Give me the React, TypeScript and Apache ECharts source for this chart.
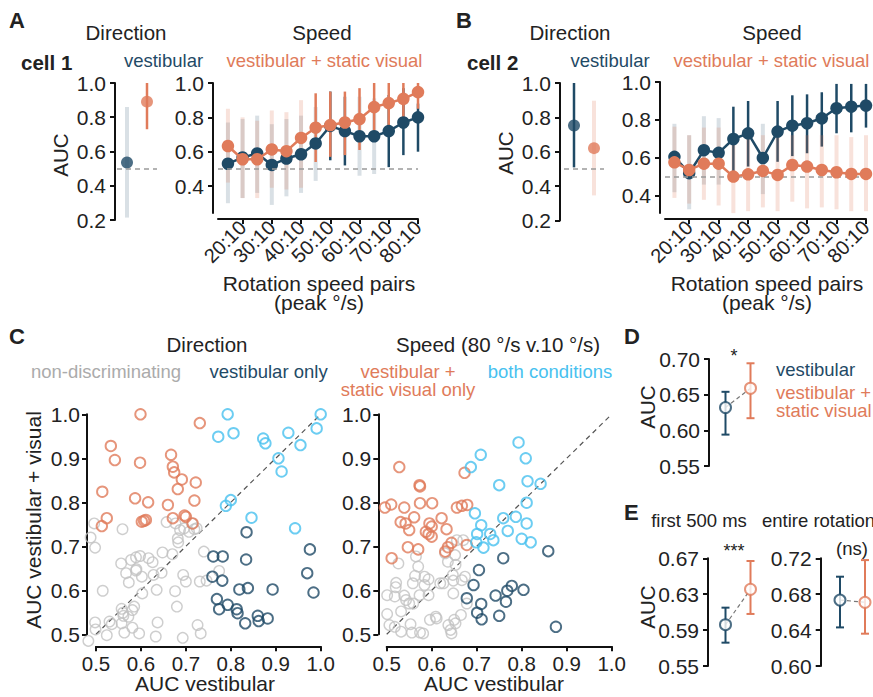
import React, { useEffect, useRef } from 'react';
import * as echarts from 'echarts';

const BLUE = '#1f4a66';
const ORANGE = '#e07b5a';
const LIGHTBLUE = '#47c1ef';
const GRAY = '#c2c2c2';
const TEXT = '#222222';
const FONT = '"Liberation Sans", Arial, Helvetica, sans-serif';
const BLUE_FADED = 'rgba(31,74,102,0.17)';
const ORANGE_FADED = 'rgba(224,123,90,0.22)';

const conditions = ['vestibular', 'vestibular + static visual'];
const speedFast = [15, 20, 25, 30, 35, 40, 45, 50, 55, 60, 65, 70, 75, 80];
const speedTicks = [20, 30, 40, 50, 60, 70, 80];
const aucTicksA = [0.4, 0.6, 0.8, 1.0];

// ---- cell 1 ----
const cell1DirAUC = [0.536, 0.891];
const cell1DirLow = [0.214, 0.73];
const cell1DirHigh = [0.86, 1.0];
const cell1DirSig = [0, 1];

const cell1SpeedVest = [0.53, 0.566, 0.59, 0.523, 0.56, 0.585, 0.648, 0.75, 0.72, 0.69, 0.69, 0.72, 0.77, 0.8];
const cell1SpeedVestLow = [0.3, 0.33, 0.36, 0.29, 0.34, 0.36, 0.43, 0.55, 0.52, 0.46, 0.47, 0.51, 0.58, 0.6];
const cell1SpeedVestHigh = [0.77, 0.79, 0.81, 0.76, 0.79, 0.81, 0.86, 0.95, 0.92, 0.92, 0.91, 0.93, 0.97, 0.88];
const cell1SpeedVestSig = [0, 0, 0, 0, 0, 0, 0, 1, 1, 0, 0, 1, 1, 1];
const cell1SpeedVis = [0.633, 0.556, 0.556, 0.613, 0.603, 0.68, 0.74, 0.755, 0.77, 0.79, 0.86, 0.883, 0.908, 0.947];
const cell1SpeedVisLow = [0.42, 0.33, 0.33, 0.39, 0.38, 0.39, 0.54, 0.57, 0.58, 0.61, 0.66, 0.7, 0.77, 0.85];
const cell1SpeedVisHigh = [0.85, 0.8, 0.78, 0.84, 0.83, 0.9, 0.94, 0.95, 0.95, 0.97, 1.0, 1.0, 1.0, 1.0];
const cell1SpeedVisSig = [0, 0, 0, 0, 0, 0, 1, 1, 1, 1, 1, 1, 1, 1];

// ---- cell 2 ----
const cell2DirAUC = [0.753, 0.621];
const cell2DirLow = [0.509, 0.346];
const cell2DirHigh = [1.0, 0.897];
const cell2DirSig = [1, 0];

const cell2SpeedVest = [0.606, 0.52, 0.641, 0.627, 0.7, 0.73, 0.6, 0.739, 0.77, 0.783, 0.809, 0.862, 0.87, 0.876];
const cell2SpeedVestLow = [0.42, 0.33, 0.46, 0.46, 0.51, 0.555, 0.41, 0.58, 0.61, 0.625, 0.66, 0.73, 0.735, 0.76];
const cell2SpeedVestHigh = [0.78, 0.72, 0.82, 0.81, 0.87, 0.9, 0.78, 0.9, 0.93, 0.935, 0.946, 0.99, 0.99, 0.99];
const cell2SpeedVestSig = [0, 0, 0, 0, 1, 1, 0, 1, 1, 1, 1, 1, 1, 1];
const cell2SpeedVis = [0.577, 0.537, 0.57, 0.57, 0.502, 0.514, 0.532, 0.511, 0.563, 0.555, 0.537, 0.525, 0.516, 0.516];
const cell2SpeedVisLow = [0.39, 0.36, 0.38, 0.35, 0.31, 0.32, 0.34, 0.32, 0.37, 0.335, 0.34, 0.33, 0.32, 0.32];
const cell2SpeedVisHigh = [0.765, 0.72, 0.76, 0.76, 0.72, 0.72, 0.72, 0.72, 0.72, 0.72, 0.72, 0.72, 0.71, 0.72];
const cell2SpeedVisSig = [0, 0, 0, 0, 0, 0, 0, 0, 0, 0, 0, 0, 0, 0];

// ---- population: direction ----
const dirNonDisc = [
  [0.496, 0.752], [0.488, 0.72], [0.498, 0.697], [0.559, 0.739], [0.515, 0.599], [0.498, 0.527], [0.499, 0.511],
  [0.483, 0.485], [0.524, 0.498], [0.53, 0.529], [0.535, 0.523], [0.556, 0.661], [0.578, 0.669], [0.589, 0.675],
  [0.598, 0.678], [0.617, 0.673], [0.626, 0.664], [0.648, 0.686], [0.567, 0.639], [0.573, 0.618], [0.589, 0.645],
  [0.59, 0.648], [0.602, 0.631], [0.603, 0.593], [0.628, 0.635], [0.635, 0.601], [0.646, 0.64], [0.67, 0.682],
  [0.657, 0.755], [0.677, 0.752], [0.682, 0.718], [0.683, 0.709], [0.687, 0.737], [0.696, 0.741], [0.707, 0.733],
  [0.719, 0.739], [0.714, 0.752], [0.724, 0.741], [0.694, 0.635], [0.7, 0.62], [0.676, 0.598], [0.68, 0.563],
  [0.731, 0.62], [0.746, 0.622], [0.74, 0.688], [0.774, 0.644], [0.557, 0.558], [0.56, 0.549], [0.561, 0.542],
  [0.572, 0.54], [0.581, 0.555], [0.585, 0.563], [0.557, 0.525], [0.563, 0.504], [0.581, 0.515], [0.596, 0.502],
  [0.637, 0.527], [0.633, 0.495], [0.693, 0.492], [0.726, 0.521], [0.733, 0.502],
];
const dirVestOnly = [
  [0.835, 0.732], [0.761, 0.677], [0.782, 0.677], [0.834, 0.67], [0.976, 0.693], [0.97, 0.639], [0.984, 0.595],
  [0.893, 0.602], [0.838, 0.605], [0.819, 0.602], [0.759, 0.631], [0.781, 0.622], [0.769, 0.58], [0.774, 0.557],
  [0.793, 0.567], [0.813, 0.557], [0.815, 0.548], [0.832, 0.525], [0.86, 0.542], [0.862, 0.53], [0.882, 0.536],
];
const dirVisOnly = [
  [0.599, 1.0], [0.731, 0.98], [0.533, 0.928], [0.542, 0.896], [0.598, 0.89], [0.514, 0.824], [0.524, 0.764],
  [0.513, 0.746], [0.587, 0.809], [0.616, 0.8], [0.602, 0.756], [0.607, 0.758], [0.611, 0.76], [0.667, 0.908],
  [0.671, 0.881], [0.674, 0.868], [0.691, 0.852], [0.682, 0.83], [0.66, 0.794], [0.671, 0.764], [0.697, 0.77],
  [0.7, 0.767], [0.722, 0.845], [0.719, 0.804], [0.715, 0.752],
];
const dirBoth = [
  [0.793, 1.0], [0.772, 0.949], [0.806, 0.957], [0.872, 0.945], [0.877, 0.934], [0.928, 0.958], [1.0, 1.0],
  [0.991, 0.968], [0.955, 0.93], [0.906, 0.9], [0.913, 0.87], [0.789, 0.792], [0.8, 0.805], [0.846, 0.765],
  [0.943, 0.741],
];

// ---- population: speed ----
const spdNonDisc = [
  [0.526, 0.661], [0.521, 0.617], [0.52, 0.607], [0.501, 0.589], [0.518, 0.586], [0.539, 0.588], [0.543, 0.578],
  [0.55, 0.57], [0.532, 0.552], [0.501, 0.546], [0.506, 0.521], [0.518, 0.517], [0.532, 0.506], [0.556, 0.504],
  [0.553, 0.523], [0.574, 0.504], [0.581, 0.502], [0.565, 0.677], [0.57, 0.654], [0.563, 0.633], [0.558, 0.616],
  [0.584, 0.631], [0.593, 0.625], [0.584, 0.612], [0.573, 0.589], [0.593, 0.589], [0.559, 0.57], [0.596, 0.533],
  [0.609, 0.54], [0.619, 0.616], [0.626, 0.616], [0.63, 0.684], [0.636, 0.665], [0.652, 0.68], [0.653, 0.658],
  [0.648, 0.622], [0.648, 0.593], [0.647, 0.635], [0.667, 0.623], [0.674, 0.631], [0.678, 0.57], [0.665, 0.544],
  [0.65, 0.533], [0.637, 0.521], [0.642, 0.51], [0.644, 0.502], [0.653, 0.525], [0.656, 0.714], [0.67, 0.714],
  [0.611, 0.536],
];
const spdVestOnly = [
  [0.859, 0.689], [0.759, 0.673], [0.705, 0.646], [0.693, 0.612], [0.678, 0.582], [0.71, 0.569], [0.701, 0.549],
  [0.711, 0.534], [0.742, 0.588], [0.75, 0.542], [0.765, 0.574], [0.768, 0.599], [0.778, 0.61], [0.804, 0.601],
  [0.876, 0.517],
];
const spdVisOnly = [
  [0.528, 0.88], [0.496, 0.788], [0.51, 0.795], [0.539, 0.788], [0.574, 0.798], [0.601, 0.798], [0.573, 0.839],
  [0.574, 0.836], [0.531, 0.755], [0.542, 0.752], [0.561, 0.766], [0.55, 0.737], [0.547, 0.698], [0.57, 0.693],
  [0.511, 0.673], [0.595, 0.752], [0.6, 0.745], [0.587, 0.733], [0.593, 0.728], [0.6, 0.722], [0.622, 0.764],
  [0.633, 0.739], [0.644, 0.708], [0.636, 0.698], [0.63, 0.688], [0.656, 0.788], [0.667, 0.792], [0.679, 0.794],
  [0.673, 0.867], [0.678, 0.703],
];
const spdBoth = [
  [0.793, 0.936], [0.709, 0.908], [0.687, 0.88], [0.809, 0.9], [0.75, 0.839], [0.813, 0.848], [0.842, 0.842],
  [0.811, 0.799], [0.696, 0.775], [0.71, 0.748], [0.759, 0.764], [0.787, 0.767], [0.811, 0.752], [0.769, 0.735],
  [0.701, 0.728], [0.73, 0.728], [0.737, 0.714], [0.699, 0.709], [0.715, 0.697], [0.8, 0.717], [0.82, 0.709],
];

// ---- population means ----
const dMean = [0.632, 0.659];
const dLow = [0.594, 0.617];
const dHigh = [0.654, 0.694];
const eFirstMean = [0.596, 0.6355];
const eFirstLow = [0.576, 0.608];
const eFirstHigh = [0.615, 0.667];
const eEntireMean = [0.6735, 0.671];
const eEntireLow = [0.643, 0.636];
const eEntireHigh = [0.6995, 0.718];
const dTicks = [0.55, 0.6, 0.65, 0.7];
const eFirstTicks = [0.55, 0.59, 0.63, 0.67];
const eEntireTicks = [0.6, 0.64, 0.68, 0.72];

function buildOption() {
  const axisLine = { show: true, lineStyle: { color: '#111', width: 2 } };
  const tickStyle = { color: '#111', width: 2 };
  const lbl = { color: TEXT, fontSize: 21, fontFamily: FONT };

  const grid = (left: number, top: number, width: number, height: number) => ({
    left, top, width, height, containLabel: false, outerBoundsMode: 'none',
  });

  const grids = [
    grid(117, 83, 40, 137), // 0 A dir
    grid(218, 83, 200, 130), // 1 A speed
    grid(564, 83, 40, 137.5), // 2 B dir
    grid(665, 82, 201, 131), // 3 B speed
    grid(96, 414.3, 224.7, 220), // 4 C dir
    grid(386.7, 414.3, 225, 220), // 5 C speed
    grid(713, 359, 50, 107), // 6 D
    grid(713, 558.3, 50, 107.7), // 7 E first
    grid(827.5, 558.3, 50, 107.7), // 8 E entire
  ];

  const catX = (gi: number) => ({ gridIndex: gi, type: 'category', data: conditions, show: false });
  const speedX = (gi: number, min: number) => ({
    gridIndex: gi, type: 'value', min, max: 80, offset: 6,
    axisLine,
    axisTick: { show: true, length: 5, lineStyle: tickStyle, customValues: speedTicks },
    axisLabel: { ...lbl, fontSize: 20, rotate: 45, margin: 5, customValues: speedTicks, formatter: (v: number) => `${v}:10` },
    splitLine: { show: false },
  });
  const fixedY = (gi: number, min: number, max: number, ticks: number[], offset: number, digits: number, margin = 9) => ({
    gridIndex: gi, type: 'value', min, max, offset,
    axisLine,
    axisTick: { show: true, length: 5, lineStyle: tickStyle, customValues: ticks },
    axisLabel: { ...lbl, margin, customValues: ticks, formatter: (v: number) => v.toFixed(digits) },
    splitLine: { show: false },
  });
  const scatX = (gi: number) => ({
    gridIndex: gi, type: 'value', min: 0.5, max: 1.0, offset: 12,
    axisLine,
    axisTick: { show: true, length: 5, lineStyle: tickStyle, customValues: [0.5, 0.6, 0.7, 0.8, 0.9, 1.0] },
    axisLabel: { ...lbl, fontSize: 20.5, margin: 7, customValues: [0.5, 0.6, 0.7, 0.8, 0.9, 1.0], formatter: (v: number) => v.toFixed(1) },
    splitLine: { show: false },
  });

  const xAxis = [
    catX(0), speedX(1, 11.6), catX(2), speedX(3, 11.8), scatX(4), scatX(5), catX(6), catX(7), catX(8),
  ];
  const yAxis = [
    fixedY(0, 0.2, 1.0, [0.2, 0.4, 0.6, 0.8, 1.0], 2, 1),
    fixedY(1, 0.243, 1.0, aucTicksA, 5, 1),
    fixedY(2, 0.2, 1.0, [0.2, 0.4, 0.6, 0.8, 1.0], 4, 1),
    fixedY(3, 0.3105, 1.0, aucTicksA, 5, 1),
    fixedY(4, 0.5, 1.0, [0.5, 0.6, 0.7, 0.8, 0.9, 1.0], 9, 1, 7),
    fixedY(5, 0.5, 1.0, [0.5, 0.6, 0.7, 0.8, 0.9, 1.0], 8.4, 1, 7),
    fixedY(6, 0.55, 0.7, dTicks, 4, 2),
    fixedY(7, 0.55, 0.67, eFirstTicks, 5, 2),
    fixedY(8, 0.6, 0.72, eEntireTicks, 6.8, 2),
  ];

  const errRender = (color: string, faded: string, wSig: number, wFaded: number, cap: number) =>
    (params: any, api: any) => {
      const x = api.value(0);
      const lo = api.value(1);
      const hi = api.value(2);
      const sig = api.value(3);
      const p1 = api.coord([x, lo]);
      const p2 = api.coord([x, hi]);
      const stroke = sig ? color : faded;
      const lineWidth = sig ? wSig : wFaded;
      const children: any[] = [
        { type: 'line', shape: { x1: p1[0], y1: p1[1], x2: p2[0], y2: p2[1] }, style: { stroke, lineWidth } },
      ];
      if (cap > 0) {
        children.push({ type: 'line', shape: { x1: p1[0] - cap, y1: p1[1], x2: p1[0] + cap, y2: p1[1] }, style: { stroke, lineWidth } });
        children.push({ type: 'line', shape: { x1: p2[0] - cap, y1: p2[1], x2: p2[0] + cap, y2: p2[1] }, style: { stroke, lineWidth } });
      }
      return { type: 'group', children };
    };

  const errSeries = (gi: number, data: any[], color: string, faded: string, wSig = 2.5, wFaded = 4, cap = 0) => ({
    type: 'custom', xAxisIndex: gi, yAxisIndex: gi, coordinateSystem: 'cartesian2d',
    renderItem: errRender(color, faded, wSig, wFaded, cap),
    encode: { x: 0, y: [1, 2] }, data, silent: true, z: 2,
  });

  const refLine = {
    silent: true, symbol: 'none', label: { show: false },
    lineStyle: { color: '#9a9a9a', type: [5, 4], width: 1.5 },
    data: [{ yAxis: 0.5 }],
  };

  const dirPoint = (gi: number, idx: number, v: number, color: string, mark: boolean) => ({
    type: 'scatter', xAxisIndex: gi, yAxisIndex: gi, symbol: 'circle', symbolSize: 12,
    itemStyle: { color }, data: [[idx, v]], z: 4, clip: false,
    ...(mark ? { markLine: refLine } : {}),
  });

  const speedLine = (gi: number, vals: number[], color: string, mark: boolean, z: number) => ({
    type: 'line', xAxisIndex: gi, yAxisIndex: gi, symbol: 'circle', symbolSize: 12.5, showSymbol: true,
    lineStyle: { color, width: 2.5 }, itemStyle: { color }, clip: false, z,
    data: speedFast.map((x, i) => [x, vals[i]]),
    ...(mark ? { markLine: refLine } : {}),
  });

  const dirErr = (lo: number[], hi: number[], sig: number[], i: number) => [[i, lo[i], hi[i], sig[i]]];
  const spdErr = (lo: number[], hi: number[], sig: number[]) => speedFast.map((x, i) => [x, lo[i], hi[i], sig[i]]);

  const scat = (gi: number, data: number[][], color: string, bw: number, z: number) => ({
    type: 'scatter', xAxisIndex: gi, yAxisIndex: gi, symbol: 'circle', symbolSize: 10.5, clip: false, z,
    itemStyle: { color: 'rgba(255,255,255,0)', borderColor: color, borderWidth: bw },
    data,
  });
  const diag = (gi: number) => ({
    type: 'line', xAxisIndex: gi, yAxisIndex: gi, symbol: 'none', silent: true, z: 1,
    lineStyle: { color: '#555', width: 1.2, type: [5, 4] },
    data: [[0.5, 0.5], [1.0, 1.0]],
  });

  const meanPanel = (gi: number, mean: number[], lo: number[], hi: number[]) => [
    {
      type: 'line', xAxisIndex: gi, yAxisIndex: gi, symbol: 'none', silent: true, z: 1,
      lineStyle: { color: '#777', width: 1.2, type: [4, 3] }, data: [[0, mean[0]], [1, mean[1]]],
    },
    errSeries(gi, [[0, lo[0], hi[0], 1]], BLUE, BLUE, 2, 2, 4),
    errSeries(gi, [[1, lo[1], hi[1], 1]], ORANGE, ORANGE, 2, 2, 4),
    {
      type: 'scatter', xAxisIndex: gi, yAxisIndex: gi, symbol: 'circle', symbolSize: 11, z: 5, clip: false,
      itemStyle: { color: '#fff', borderColor: BLUE, borderWidth: 2 }, data: [[0, mean[0]]],
    },
    {
      type: 'scatter', xAxisIndex: gi, yAxisIndex: gi, symbol: 'circle', symbolSize: 11, z: 5, clip: false,
      itemStyle: { color: '#fff', borderColor: ORANGE, borderWidth: 2 }, data: [[1, mean[1]]],
    },
  ];

  const series: any[] = [
    // A direction
    errSeries(0, dirErr(cell1DirLow, cell1DirHigh, cell1DirSig, 0), BLUE, BLUE_FADED),
    errSeries(0, dirErr(cell1DirLow, cell1DirHigh, cell1DirSig, 1), ORANGE, ORANGE_FADED),
    dirPoint(0, 0, cell1DirAUC[0], BLUE, true),
    dirPoint(0, 1, cell1DirAUC[1], ORANGE, false),
    // A speed
    errSeries(1, spdErr(cell1SpeedVestLow, cell1SpeedVestHigh, cell1SpeedVestSig), BLUE, BLUE_FADED),
    errSeries(1, spdErr(cell1SpeedVisLow, cell1SpeedVisHigh, cell1SpeedVisSig), ORANGE, ORANGE_FADED),
    speedLine(1, cell1SpeedVest, BLUE, true, 4),
    speedLine(1, cell1SpeedVis, ORANGE, false, 5),
    // B direction
    errSeries(2, dirErr(cell2DirLow, cell2DirHigh, cell2DirSig, 0), BLUE, BLUE_FADED),
    errSeries(2, dirErr(cell2DirLow, cell2DirHigh, cell2DirSig, 1), ORANGE, ORANGE_FADED),
    dirPoint(2, 0, cell2DirAUC[0], BLUE, true),
    dirPoint(2, 1, cell2DirAUC[1], ORANGE, false),
    // B speed
    errSeries(3, spdErr(cell2SpeedVestLow, cell2SpeedVestHigh, cell2SpeedVestSig), BLUE, BLUE_FADED),
    errSeries(3, spdErr(cell2SpeedVisLow, cell2SpeedVisHigh, cell2SpeedVisSig), ORANGE, ORANGE_FADED),
    speedLine(3, cell2SpeedVest, BLUE, true, 4),
    speedLine(3, cell2SpeedVis, ORANGE, false, 5),
    // C direction
    diag(4),
    scat(4, dirNonDisc, GRAY, 1.4, 2),
    scat(4, dirVestOnly, BLUE, 1.9, 3),
    scat(4, dirVisOnly, ORANGE, 1.9, 3),
    scat(4, dirBoth, LIGHTBLUE, 1.9, 3),
    // C speed
    diag(5),
    scat(5, spdNonDisc, GRAY, 1.4, 2),
    scat(5, spdVestOnly, BLUE, 1.9, 3),
    scat(5, spdVisOnly, ORANGE, 1.9, 3),
    scat(5, spdBoth, LIGHTBLUE, 1.9, 3),
    // D, E
    ...meanPanel(6, dMean, dLow, dHigh),
    ...meanPanel(7, eFirstMean, eFirstLow, eFirstHigh),
    ...meanPanel(8, eEntireMean, eEntireLow, eEntireHigh),
  ];

  const T = (text: string, x: number, y: number, o: any = {}) => ({
    type: 'text', x, y, rotation: o.rot || 0, silent: true, z: 100,
    style: {
      text, fill: o.color || TEXT, fontSize: o.size || 20.5, fontFamily: FONT,
      fontWeight: o.bold ? 'bold' : 'normal',
      lineHeight: o.lh || undefined,
      align: o.align || 'center', textAlign: o.align || 'center',
      verticalAlign: 'middle', textVerticalAlign: 'middle',
    },
  });
  const R = Math.PI / 2;
  const graphic = [
    // A
    T('A', 9, 20, { bold: true, size: 22, align: 'left' }),
    T('Direction', 126, 32),
    T('Speed', 322, 32),
    T('cell 1', 21, 62, { bold: true, align: 'left' }),
    T('vestibular', 163.5, 60, { color: BLUE, size: 18.5 }),
    T('vestibular + static visual', 324.5, 60, { color: ORANGE, size: 18.5 }),
    T('AUC', 60, 155, { rot: R }),
    T('Rotation speed pairs\n(peak °/s)', 319, 292.5, { size: 21, lh: 19 }),
    // B
    T('B', 456, 20, { bold: true, size: 22, align: 'left' }),
    T('Direction', 570, 32),
    T('Speed', 772, 32),
    T('cell 2', 467, 62, { bold: true, align: 'left' }),
    T('vestibular', 610, 60, { color: BLUE, size: 18.5 }),
    T('vestibular + static visual', 771.5, 60, { color: ORANGE, size: 18.5 }),
    T('AUC', 505, 153, { rot: R }),
    T('Rotation speed pairs\n(peak °/s)', 767, 292.5, { size: 21, lh: 19 }),
    // C
    T('C', 9, 336, { bold: true, size: 22, align: 'left' }),
    T('Direction', 207, 344),
    T('non-discriminating', 106, 371, { color: '#ababab', size: 18.5 }),
    T('vestibular only', 268.5, 371, { color: BLUE, size: 18.5 }),
    T('AUC vestibular + visual', 33, 520, { rot: R, size: 21 }),
    T('AUC vestibular', 205, 683, { size: 21 }),
    T('Speed (80 °/s v.10 °/s)', 498, 344),
    T('vestibular +\nstatic visual only', 408, 380, { color: ORANGE, size: 18.5, lh: 18 }),
    T('both conditions', 550, 371, { color: LIGHTBLUE, size: 18.5 }),
    T('AUC vestibular', 494, 683, { size: 21 }),
    // D
    T('D', 624, 336, { bold: true, size: 22, align: 'left' }),
    T('AUC', 647, 407, { rot: R }),
    T('*', 734, 356, { size: 18 }),
    T('vestibular', 776, 369, { color: BLUE, size: 18.5, align: 'left' }),
    T('vestibular +\nstatic visual', 776, 401, { color: ORANGE, size: 18.5, align: 'left', lh: 18 }),
    // E
    T('E', 624, 512, { bold: true, size: 22, align: 'left' }),
    T('first 500 ms', 699, 520, { size: 18.5 }),
    T('entire rotation', 762, 520, { size: 18.5, align: 'left' }),
    T('AUC', 647, 607, { rot: R }),
    T('***', 734, 551, { size: 18 }),
    T('(ns)', 852, 548, { size: 18.5 }),
  ];

  return {
    animation: false,
    backgroundColor: '#ffffff',
    textStyle: { fontFamily: FONT },
    grid: grids,
    xAxis,
    yAxis,
    series,
    graphic,
  };
}

export default function App() {
  const ref = useRef<HTMLDivElement>(null);
  useEffect(() => {
    if (!ref.current) return;
    const chart = echarts.init(ref.current, null, { renderer: 'svg' });
    chart.setOption(buildOption() as any);
    return () => chart.dispose();
  }, []);
  return (
    <div
      ref={ref}
      style={{ position: 'fixed', left: 0, top: 0, width: 873, height: 697, background: '#fff' }}
    />
  );
}
